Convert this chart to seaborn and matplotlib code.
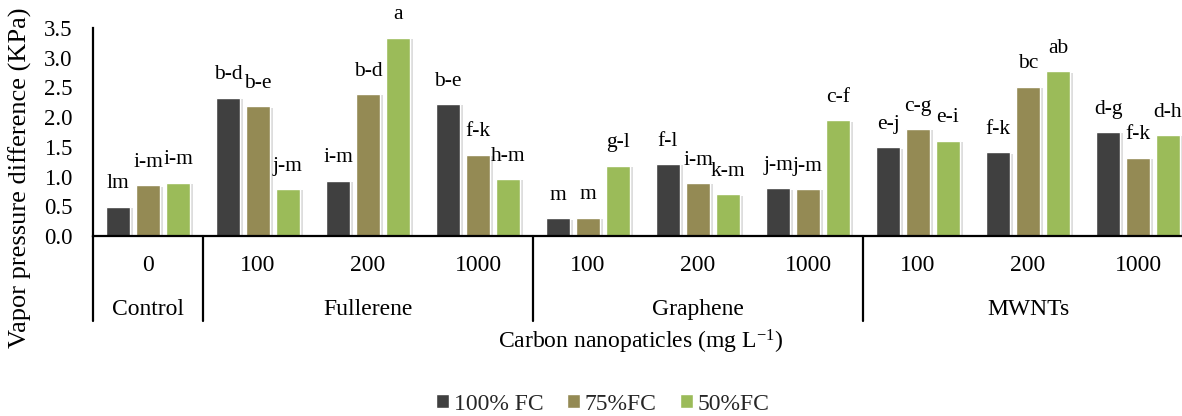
import matplotlib
matplotlib.use("Agg")
import matplotlib.pyplot as plt
import matplotlib.patheffects as pe
import seaborn as sns
import pandas as pd
from matplotlib.lines import Line2D

# ---------------- data ----------------
materials = ["Control", "Fullerene", "Fullerene", "Fullerene",
             "Graphene", "Graphene", "Graphene", "MWNTs", "MWNTs", "MWNTs"]
concentrations = ["0", "100", "200", "1000", "100", "200", "1000", "100", "200", "1000"]
series_names = ["100% FC", "75%FC", "50%FC"]

fc100 = [0.49, 2.33, 0.93, 2.22, 0.30, 1.21, 0.80, 1.49, 1.41, 1.75]
fc75 = [0.85, 2.18, 2.39, 1.37, 0.31, 0.89, 0.79, 1.80, 2.51, 1.32]
fc50 = [0.90, 0.79, 3.34, 0.96, 1.18, 0.70, 1.95, 1.60, 2.77, 1.70]

let100 = ["lm", "b-d", "i-m", "b-e", "m", "f-l", "j-m", "e-j", "f-k", "d-g"]
let75 = ["i-m", "b-e", "b-d", "f-k", "m", "i-m", "j-m", "c-g", "bc", "f-k"]
let50 = ["i-m", "j-m", "a", "h-m", "g-l", "k-m", "c-f", "e-i", "ab", "d-h"]

group_names = ["Control", "Fullerene", "Graphene", "MWNTs"]
y_ticks = [0.0, 0.5, 1.0, 1.5, 2.0, 2.5, 3.0, 3.5]
colors = ["#404040", "#948A54", "#9BBB59"]

# ---------------- frame ----------------
keys = [f"{m} {c}" for m, c in zip(materials, concentrations)]
rows = []
for name, vals in zip(series_names, [fc100, fc75, fc50]):
    for k, v in zip(keys, vals):
        rows.append({"cat": k, "FC": name, "value": v})
df = pd.DataFrame(rows)

sns.set_theme(style="white")
plt.rcParams["font.family"] = ["Liberation Serif", "DejaVu Serif"]
plt.rcParams["mathtext.fontset"] = "custom"
plt.rcParams["mathtext.rm"] = "Liberation Serif"
plt.rcParams["mathtext.it"] = "Liberation Serif:italic"
plt.rcParams["mathtext.bf"] = "Liberation Serif:bold"

W, H = 1182, 416
fig = plt.figure(figsize=(W / 100, H / 100), dpi=100)
ax = fig.add_axes([93 / W, (H - 236) / H, 1100 / W, 208 / H])

sns.barplot(data=df, x="cat", y="value", hue="FC", order=keys,
            hue_order=series_names, palette=colors, width=0.818, gap=0.17,
            saturation=1, errorbar=None, ax=ax, legend=True)

shadow = [pe.SimplePatchShadow(offset=(1.5, -1.0), shadow_rgbFace="#909090", alpha=0.3),
          pe.Normal()]
for cont in ax.containers:
    for patch in cont.patches:
        patch.set_path_effects(shadow)

ax.set_xlim(-0.5, 9.5)
ax.set_ylim(0, 3.5)
ax.set_yticks(y_ticks)
ax.set_yticklabels([f"{t:.1f}" for t in y_ticks], fontsize=16.5, color="black")
ax.tick_params(axis="y", length=0, pad=15)
ax.set_xticks([])
ax.set_xlabel("")
ax.set_ylabel("")
for s in ["top", "right"]:
    ax.spines[s].set_visible(False)
for s in ["left", "bottom"]:
    ax.spines[s].set_color("black")
    ax.spines[s].set_linewidth(1.6)
    ax.spines[s].set_zorder(5)

# letters above bars
all_letters = [let100, let75, let50]
for cont, labs in zip(ax.containers, all_letters):
    for patch, lab in zip(cont.patches, labs):
        xc = patch.get_x() + patch.get_width() / 2
        ax.annotate(lab, (xc, patch.get_height()), xytext=(0, 16.5),
                    textcoords="offset points", ha="center", va="center",
                    fontsize=15.5, color="black")

# multi-level category axis
xt = ax.get_xaxis_transform()
for i, c in enumerate(concentrations):
    ax.text(i, -0.142, c, transform=xt, ha="center", va="center", fontsize=17,
            color="black", clip_on=False)
group_bounds = [(-0.5, 0.5), (0.5, 3.5), (3.5, 6.5), (6.5, 9.5)]
for name, (a, b) in zip(group_names, group_bounds):
    ax.text((a + b) / 2, -0.352, name, transform=xt, ha="center", va="center",
            fontsize=17, color="black", clip_on=False)
for xs in [-0.5, 0.5, 3.5, 6.5, 9.5]:
    ax.add_line(Line2D([xs, xs], [0, -0.41], transform=xt, color="black",
                       lw=1.6, clip_on=False))

fig.text(641 / W, (H - 342) / H, r"Carbon nanopaticles (mg L$^{\mathregular{-1}}$)",
         ha="center", va="center", fontsize=17, color="black")
fig.text(20 / W, (H - 178) / H, "Vapor pressure difference (KPa)",
         rotation=90, ha="center", va="center", fontsize=19, color="black")

handles, labels = ax.get_legend_handles_labels()
ax.get_legend().remove()
fig.legend(handles, labels, loc="center", bbox_to_anchor=(603 / W, (H - 404) / H),
           ncol=3, frameon=False, fontsize=17, handlelength=0.55, handleheight=0.55,
           handletextpad=0.2, columnspacing=1.0, borderpad=0, borderaxespad=0)

fig.savefig("out.png", dpi=100)
